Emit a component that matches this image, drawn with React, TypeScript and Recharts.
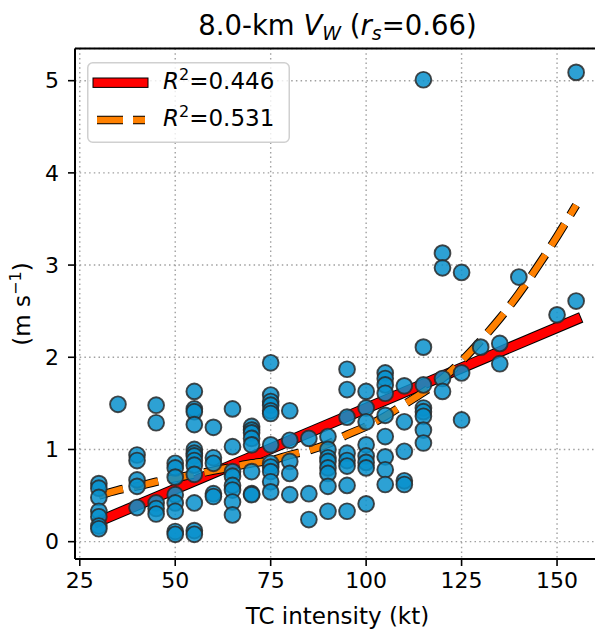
import { CartesianGrid, ComposedChart, Legend, Line, ReferenceLine, Scatter, XAxis, YAxis } from "recharts";

// TC intensity (kt) and 8.0-km V_W (m s-1), one entry per storm sample
const intensityKt = [
  30, 30, 30, 30, 30, 30, 30,
  35,
  40, 40, 40, 40, 40,
  45, 45, 45, 45, 45,
  50, 50, 50, 50, 50, 50, 50, 50,
  55, 55, 55, 55, 55, 55, 55, 55, 55, 55, 55, 55, 55,
  60, 60, 60, 60, 60,
  65, 65, 65, 65, 65, 65, 65, 65,
  70, 70, 70, 70, 70, 70, 70, 70,
  75, 75, 75, 75, 75, 75, 75, 75, 75, 75, 75, 75,
  80, 80, 80, 80, 80,
  85, 85, 85,
  90, 90, 90, 90, 90, 90, 90, 90,
  95, 95, 95, 95, 95, 95, 95, 95,
  100, 100, 100, 100, 100, 100, 100, 100,
  105, 105, 105, 105, 105, 105, 105, 105, 105,
  110, 110, 110, 110, 110,
  115, 115, 115, 115, 115, 115, 115, 115,
  120, 120, 120, 120,
  125, 125, 125,
  130,
  135, 135,
  140,
  150,
  155, 155,
];
const vwMs = [
  0.63, 0.58, 0.48, 0.33, 0.27, 0.17, 0.14,
  1.49,
  0.94, 0.88, 0.67, 0.6, 0.37,
  1.48, 1.29, 0.42, 0.36, 0.3,
  0.85, 0.8, 0.7, 0.51, 0.42, 0.33, 0.11, 0.08,
  1.63, 1.44, 1.41, 1.27, 1.0, 0.96, 0.93, 0.88, 0.83, 0.73, 0.42, 0.12, 0.08,
  1.24, 0.91, 0.85, 0.52, 0.49,
  1.44, 1.03, 0.76, 0.71, 0.61, 0.56, 0.43, 0.29,
  1.25, 1.21, 1.18, 1.12, 1.05, 0.76, 0.52, 0.51,
  1.94, 1.59, 1.52, 1.48, 1.42, 1.39, 1.05, 0.85, 0.81, 0.76, 0.65, 0.54,
  1.42, 1.1, 0.87, 0.74, 0.51,
  1.12, 0.52, 0.24,
  1.14, 1.0, 0.91, 0.87, 0.8, 0.74, 0.6, 0.33,
  1.87, 1.65, 1.35, 0.96, 0.88, 0.82, 0.61, 0.33,
  1.63, 1.45, 1.3, 1.05, 0.93, 0.86, 0.8, 0.41,
  1.83, 1.77, 1.7, 1.61, 1.37, 1.14, 0.92, 0.78, 0.62,
  1.69, 1.3, 0.98, 0.66, 0.62,
  5.01, 2.11, 1.7, 1.45, 1.41, 1.36, 1.21, 1.07,
  3.13, 2.97, 1.77, 1.63,
  2.92, 1.83, 1.32,
  2.11,
  2.15, 1.93,
  2.87,
  2.46,
  5.09, 2.61,
];

// linear fit (solid red)
const linFitX = [30, 155];
const linFitY = [0.22, 2.41];

// exponential fit (dashed orange)
const expFitX = [30, 35, 40, 45, 50, 55, 60, 65, 70, 75, 80, 85, 90, 95, 100, 105, 110, 115, 120, 125, 130, 135, 140, 145, 150, 155];
const expFitY = [0.5, 0.56, 0.6, 0.65, 0.69, 0.73, 0.77, 0.81, 0.85, 0.88, 0.94, 0.99, 1.06, 1.16, 1.25, 1.36, 1.49, 1.62, 1.77, 1.96, 2.18, 2.42, 2.69, 2.99, 3.31, 3.65];

const fitR2 = ["0.446", "0.531"];

const xTicks = [25, 50, 75, 100, 125, 150];
const yTicks = [0, 1, 2, 3, 4, 5];
const X_MIN = 23.75;
const X_MAX = 161.25;
const Y_MIN = -0.188;
const Y_MAX = 5.349;

const font = "DejaVu Sans, sans-serif";
const red = "#ff0000";
const orange = "#ff8000";
const dash = "25 11";

const points = intensityKt.map((x, i) => ({ x, y: vwMs[i] }));
const linFit = linFitX.map((x, i) => ({ x, y: linFitY[i] }));
const expFit = expFitX.map((x, i) => ({ x, y: expFitY[i] }));

function Dot(props: any) {
  return (
    <circle
      cx={props.cx}
      cy={props.cy}
      r={7.9}
      fill="#0890cc"
      fillOpacity={0.85}
      stroke="#2a2a2a"
      strokeOpacity={0.85}
      strokeWidth={1.9}
    />
  );
}

function R2Label({ x, y, value }: { x: number; y: number; value: string }) {
  return (
    <text x={x} y={y} fontFamily={font} fontSize={23} fill="#000">
      <tspan fontStyle="italic">R</tspan>
      <tspan fontSize={16} dy={-9.5}>2</tspan>
      <tspan dy={9.5}>={value}</tspan>
    </text>
  );
}

function FitLegend() {
  return (
    <svg width={203} height={81} style={{ display: "block" }}>
      <rect x={0.75} y={0.75} width={201.5} height={79.5} rx={5} fill="#fff" fillOpacity={0.8} stroke="#d0d0d0" strokeWidth={1.5} />
      <rect x={6} y={16} width={55} height={9.4} fill={red} stroke="#000" strokeWidth={1} />
      <line x1={10} x2={58} y1={58} y2={58} stroke="#000" strokeWidth={8.5} strokeDasharray="26 10" />
      <line x1={10} x2={58} y1={58} y2={58} stroke={orange} strokeWidth={6.5} strokeDasharray="26 10" />
      <R2Label x={76} y={27} value={fitR2[0]} />
      <R2Label x={76} y={64} value={fitR2[1]} />
    </svg>
  );
}

export default function App() {
  return (
    <div style={{ position: "relative", width: 595, height: 629, overflow: "hidden", background: "#fff" }}>
      <style>{"body{margin:0}"}</style>
      <ComposedChart width={620} height={629} margin={{ top: 48.5, right: 20, bottom: 0, left: 0 }}>
        <CartesianGrid stroke="#a0a0a0" strokeWidth={1.4} strokeDasharray="1.5 3.2" />
        <XAxis
          type="number"
          dataKey="x"
          domain={[X_MIN, X_MAX]}
          allowDataOverflow
          ticks={xTicks}
          height={70}
          tickSize={7}
          tickMargin={6}
          axisLine={{ stroke: "#000", strokeWidth: 2 }}
          tickLine={{ stroke: "#000", strokeWidth: 1.6 }}
          tick={{ fill: "#000", fontSize: 22, fontFamily: font }}
        />
        <YAxis
          type="number"
          dataKey="y"
          domain={[Y_MIN, Y_MAX]}
          allowDataOverflow
          ticks={yTicks}
          width={75}
          tickSize={7}
          tickMargin={9}
          axisLine={{ stroke: "#000", strokeWidth: 2 }}
          tickLine={{ stroke: "#000", strokeWidth: 1.6 }}
          tick={{ fill: "#000", fontSize: 22, fontFamily: font }}
        />
        <ReferenceLine y={Y_MAX} stroke="#000" strokeWidth={2} ifOverflow="visible" />
        <ReferenceLine x={X_MAX} stroke="#000" strokeWidth={2} ifOverflow="visible" />
        <Scatter data={points} dataKey="y" shape={Dot} isAnimationActive={false} />
        <Line data={linFit} dataKey="y" type="linear" stroke="#000" strokeWidth={11} strokeLinecap="square" dot={false} isAnimationActive={false} />
        <Line data={linFit} dataKey="y" type="linear" stroke={red} strokeWidth={9} strokeLinecap="square" dot={false} isAnimationActive={false} />
        <Line data={expFit} dataKey="y" type="monotone" stroke="#000" strokeWidth={8.5} strokeDasharray={dash} dot={false} isAnimationActive={false} />
        <Line data={expFit} dataKey="y" type="monotone" stroke={orange} strokeWidth={6.5} strokeDasharray={dash} dot={false} isAnimationActive={false} />
        <Legend
          layout="vertical"
          align="center"
          verticalAlign="middle"
          content={() => <FitLegend />}
          wrapperStyle={{ left: 87, top: 62, width: 203, height: 81 }}
        />
      </ComposedChart>
      <svg width={595} height={629} style={{ position: "absolute", left: 0, top: 0, pointerEvents: "none" }}>
        <text x={337.5} y={35} textAnchor="middle" fontFamily={font} fontSize={27.5} fill="#000">
          <tspan>8.0-km </tspan>
          <tspan fontStyle="italic">V</tspan>
          <tspan fontStyle="italic" fontSize={19} dy={5}>W</tspan>
          <tspan dy={-5}> (</tspan>
          <tspan fontStyle="italic">r</tspan>
          <tspan fontStyle="italic" fontSize={19} dy={5}>s</tspan>
          <tspan dy={-5}>=0.66)</tspan>
        </text>
        <text transform="translate(30,304) rotate(-90)" textAnchor="middle" fontFamily={font} fontSize={23} fill="#000">
          <tspan>(m s</tspan>
          <tspan fontSize={16} dy={-9.5}>−1</tspan>
          <tspan dy={9.5}>)</tspan>
        </text>
        <text x={337.5} y={624} textAnchor="middle" fontFamily={font} fontSize={23} fill="#000">
          TC intensity (kt)
        </text>
      </svg>
    </div>
  );
}
